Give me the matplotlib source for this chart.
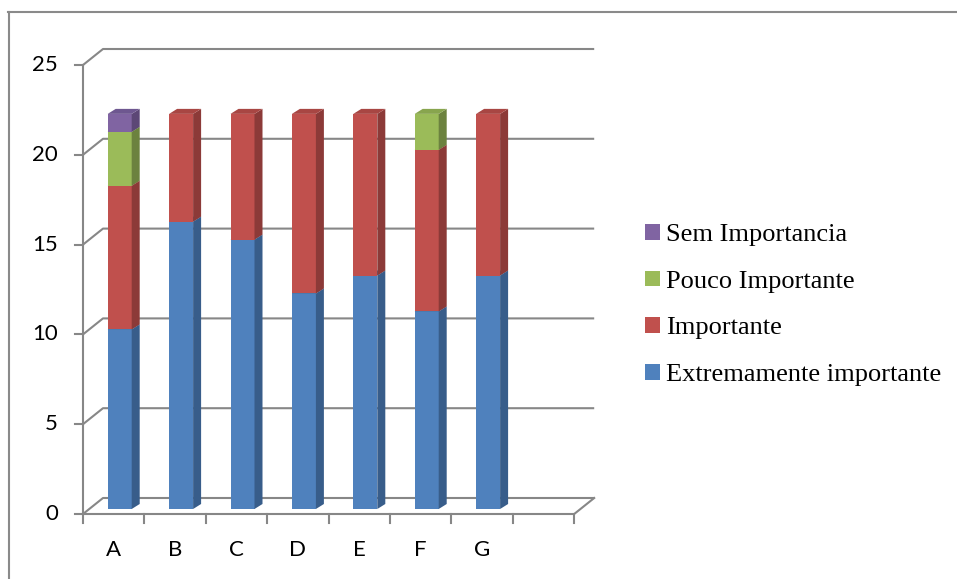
import numpy as np
import matplotlib.pyplot as plt
from matplotlib.patches import Polygon, Patch
from matplotlib.lines import Line2D

# data
categories = ['A', 'B', 'C', 'D', 'E', 'F', 'G']
series_names = ['Extremamente importante', 'Importante', 'Pouco Importante', 'Sem Importancia']
extremamente = [10, 16, 15, 12, 13, 11, 13]
importante = [8, 6, 7, 10, 9, 9, 9]
pouco = [3, 0, 0, 0, 0, 2, 0]
sem = [1, 0, 0, 0, 0, 0, 0]
yticks = [0, 5, 10, 15, 20, 25]

# colours: front, side, top
front_cols = ['#4F81BD', '#C0504D', '#9BBB59', '#8064A2']
side_cols = ['#385D8A', '#8C3A38', '#6C823F', '#5C4776']
top_cols = ['#46729F', '#A84643', '#88A54E', '#6E5790']

W, H = 957, 579
# pixel layout of the front plane
X0, CW = 83, 61.4      # x of category 0, width of one category
Y0, VU = 514, 17.96    # y of value 0, pixels per unit
n_slots = 8

fig = plt.figure(figsize=(W / 100, H / 100), dpi=100)
ax = fig.add_axes([0, 0, 1, 1])
ax.set_xlim(-X0 / CW, (W - X0) / CW)
ax.set_ylim(-(H - Y0) / VU, Y0 / VU)
ax.axis('off')

grid_c = '#878787'
lw = 1.5
# depth of back wall, in data units
wx, wy = 20 / CW, 16 / VU

# walls / gridlines
for v in yticks:
    ax.plot([0, wx, n_slots + wx], [v, v + wy, v + wy], color=grid_c, lw=lw, zorder=1,
            solid_capstyle='butt')
    ax.plot([-8 / CW, 0], [v, v], color=grid_c, lw=lw, zorder=1)
ax.plot([0, 0], [0, yticks[-1]], color=grid_c, lw=lw, zorder=1)
ax.plot([0, n_slots, n_slots + wx], [0, 0, wy], color=grid_c, lw=lw, zorder=1)
for k in range(n_slots + 1):
    ax.plot([k, k], [0, -9 / VU], color=grid_c, lw=lw, zorder=1)

for v in yticks:
    ax.text(-25 / CW, v, str(v), ha='right', va='center', fontsize=16,
            family='Lato', color='black')
for i, c in enumerate(categories):
    ax.text(i + 0.5, -36 / VU, c, ha='center', va='center', fontsize=16,
            family='Lato', color='black')

# bars (pseudo 3d)
ox, oy = 6 / CW, 5 / VU      # bar front plane offset
bw = 24 / CW                 # bar width
dx, dy = 8 / CW, 5 / VU      # bar depth
stack = np.array([extremamente, importante, pouco, sem])
for i in range(len(categories)):
    left = i + 0.5 + ox - bw / 2
    right = left + bw
    base = 0
    for s in range(stack.shape[0]):
        h = stack[s, i]
        if h == 0:
            continue
        y1, y2 = base + oy, base + h + oy
        ax.add_patch(Polygon([(left, y1), (right, y1), (right, y2), (left, y2)],
                             closed=True, fc=front_cols[s], ec='none', zorder=3))
        ax.add_patch(Polygon([(right, y1), (right + dx, y1 + dy), (right + dx, y2 + dy), (right, y2)],
                             closed=True, fc=side_cols[s], ec='none', zorder=3))
        ax.add_patch(Polygon([(left, y2), (right, y2), (right + dx, y2 + dy), (left + dx, y2 + dy)],
                             closed=True, fc=top_cols[s], ec='none', zorder=3))
        base += h

# legend (reverse order like excel)
handles = [Patch(fc=front_cols[s], ec='none', label=series_names[s]) for s in range(3, -1, -1)]
fig.legend(handles=handles, loc='center left', bbox_to_anchor=(645 / W, 1 - 305 / H),
           frameon=False, prop={'family': 'Liberation Serif', 'size': 19},
           handlelength=0.55, handleheight=0.55, handletextpad=0.25, labelspacing=0.92,
           borderpad=0, borderaxespad=0)

# outer chart border
fig.add_artist(Line2D([8.5 / W, 8.5 / W], [0, 1 - 12 / H], color='#8A8A8A', lw=1.5,
                      transform=fig.transFigure))
fig.add_artist(Line2D([8 / W, 1], [1 - 12 / H, 1 - 12 / H], color='#8A8A8A', lw=1.5,
                      transform=fig.transFigure))

fig.savefig('out.png', dpi=100)
